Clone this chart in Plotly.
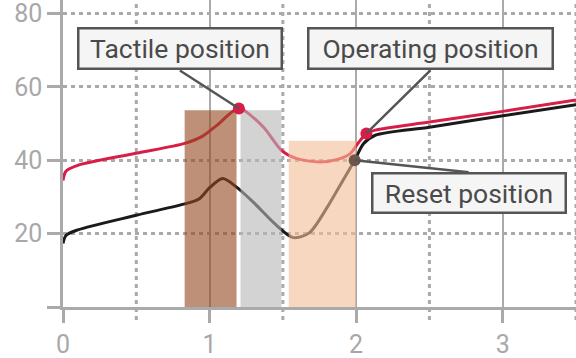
import plotly.graph_objects as go

# ---- data ----
red_x = [0, 0.02, 0.1, 0.5, 0.83, 0.95, 1.05, 1.2, 1.365, 1.49, 1.59, 1.75, 1.88, 1.96, 2.02, 2.07, 2.13, 2.5, 3.0, 3.5]
red_y = [34.5, 37.0, 38.6, 41.9, 44.6, 46.5, 49.5, 54.1, 49.1, 42.7, 40.5, 39.5, 40.3, 41.8, 45.0, 47.3, 48.2, 50.4, 53.3, 56.4]

black_x = [0, 0.02, 0.1, 0.5, 0.85, 0.93, 1.0, 1.09, 1.18, 1.3, 1.45, 1.57, 1.68, 1.8, 1.91, 1.99, 2.05, 2.13, 2.5, 3.0, 3.5]
black_y = [17.3, 19.5, 21.0, 25.0, 28.3, 29.5, 32.5, 35.0, 32.8, 28.5, 22.5, 18.9, 20.2, 27.0, 34.5, 40.0, 44.5, 46.8, 49.0, 52.1, 55.1]

bar_start = [0.83, 1.211, 1.54]
bar_end = [1.184, 1.49, 2.0]
bar_height = [53.6, 53.6, 45.3]
bar_colors = ["rgb(147,72,30)", "rgb(183,183,183)", "rgb(243,190,150)"]

point_labels = ["Tactile position", "Operating position", "Reset position"]
point_x = [1.2, 2.07, 1.99]
point_y = [54.1, 47.3, 40.0]
point_colors = ["#d81e48", "#d81e48", "#6e5648"]

x_ticks = [0, 1, 2, 3]
x_minor = [0.5, 1.5, 2.5, 3.5]
y_ticks = [0, 20, 40, 60, 80]
y_ticktext = ["", "20", "40", "60", "80"]

X_RANGE = [0, 3.5]
Y_RANGE = [0, 83.65]
GRID = "#aaaaaa"
FONT = "Roboto"

fig = go.Figure()

fig.add_trace(go.Scatter(x=black_x, y=black_y, mode="lines",
                         line=dict(color="#1a1a1a", width=3, shape="spline", smoothing=0.8),
                         xaxis="x", yaxis="y", hoverinfo="skip", showlegend=False))
fig.add_trace(go.Scatter(x=red_x, y=red_y, mode="lines",
                         line=dict(color="#d81e48", width=3, shape="spline", smoothing=0.8),
                         xaxis="x", yaxis="y", hoverinfo="skip", showlegend=False))

centers = [(a + b) / 2 for a, b in zip(bar_start, bar_end)]
widths = [b - a for a, b in zip(bar_start, bar_end)]
fig.add_trace(go.Bar(x=centers, y=bar_height, width=widths,
                     marker=dict(color=bar_colors, line=dict(width=0)), opacity=0.6,
                     xaxis="x2", yaxis="y2", hoverinfo="skip", showlegend=False))

fig.add_trace(go.Scatter(x=point_x, y=point_y, mode="markers",
                         marker=dict(color=point_colors, size=12),
                         xaxis="x2", yaxis="y2", hoverinfo="skip", showlegend=False, cliponaxis=False))

for xv in x_minor:
    fig.add_shape(type="line", xref="x", yref="paper", x0=xv, x1=xv, y0=-0.0424, y1=1,
                  line=dict(color=GRID, width=3, dash="4px,4px"), layer="below")

# annotations: (ax, ay, yanchor, width, height)
ann_style = [(-59, -38, "bottom", 195, 32), (64, -63, "bottom", 236, 32), (114, 12, "top", 185, 31)]
for lab, px, py, (ax, ay, ya, w, h) in zip(point_labels, point_x, point_y, ann_style):
    fig.add_annotation(x=px, y=py, xref="x", yref="y", text=lab, showarrow=True,
                       ax=ax, ay=ay, axref="pixel", ayref="pixel", arrowhead=0,
                       arrowwidth=2.5, arrowcolor="#555555", standoff=0,
                       xanchor="center", yanchor=ya, width=w, height=h,
                       bgcolor="#f5f5f5", bordercolor="#555555", borderwidth=2.5, borderpad=3,
                       font=dict(family=FONT, size=26.5, color="#4a4a4a"))

fig.update_layout(
    width=576, height=358,
    margin=dict(l=63, r=0, t=0, b=51),
    paper_bgcolor="white", plot_bgcolor="white",
    barmode="overlay",
    xaxis=dict(range=X_RANGE, tickvals=x_ticks, showgrid=True, gridcolor=GRID, gridwidth=2,
               showline=True, linecolor=GRID, linewidth=2.5, ticks="outside", ticklen=13,
               tickwidth=2.5, tickcolor=GRID, zeroline=False, automargin=False,
               ticklabeloverflow="allow",
               tickfont=dict(family=FONT, size=25, color="#a8a8a8")),
    yaxis=dict(range=Y_RANGE, tickvals=y_ticks, ticktext=y_ticktext, showgrid=True,
               gridcolor=GRID, gridwidth=3, griddash="4px,4px",
               showline=True, linecolor=GRID, linewidth=2.5, ticks="outside", ticklen=13,
               tickwidth=2.5, tickcolor=GRID, zeroline=False, automargin=False,
               ticklabeloverflow="allow",
               tickfont=dict(family=FONT, size=25, color="#a8a8a8")),
    xaxis2=dict(range=X_RANGE, overlaying="x", anchor="y2", visible=False),
    yaxis2=dict(range=Y_RANGE, overlaying="y", anchor="x2", visible=False),
)

fig.write_html("out.html", config={"displayModeBar": False},
               post_script="document.body.style.margin='0px';")
